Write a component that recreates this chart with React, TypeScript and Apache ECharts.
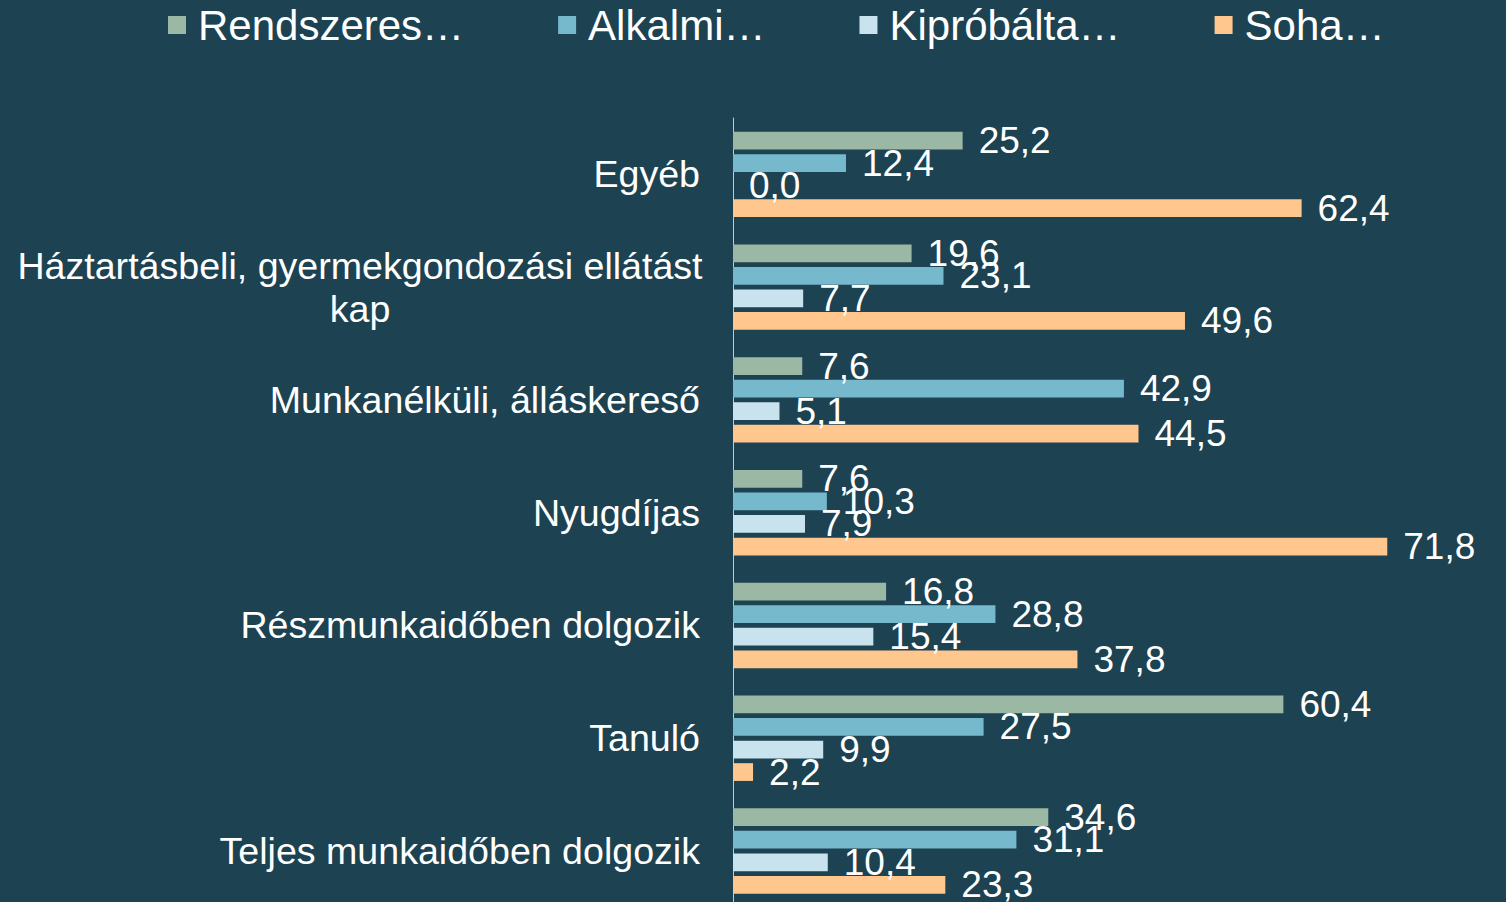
import React, { useEffect, useRef } from "react";
import * as echarts from "echarts";

const categories = [
  "Egyéb",
  "Háztartásbeli, gyermekgondozási ellátást\nkap",
  "Munkanélküli, álláskereső",
  "Nyugdíjas",
  "Részmunkaidőben dolgozik",
  "Tanuló",
  "Teljes munkaidőben dolgozik",
];
const seriesNames = ["Rendszeres…", "Alkalmi…", "Kipróbálta…", "Soha…"];
const rendszeres = [25.2, 19.6, 7.6, 7.6, 16.8, 60.4, 34.6];
const alkalmi = [12.4, 23.1, 42.9, 10.3, 28.8, 27.5, 31.1];
const kiprobalta = [0.0, 7.7, 5.1, 7.9, 15.4, 9.9, 10.4];
const soha = [62.4, 49.6, 44.5, 71.8, 37.8, 2.2, 23.3];
const colors = ["#9ab8a3", "#76b8cc", "#c9e3ee", "#ffc68d"];

const FONT = "'Liberation Sans', Arial, sans-serif";

export default function App() {
  const ref = useRef<HTMLDivElement>(null);
  useEffect(() => {
    document.body.style.margin = "0";
    document.body.style.overflow = "hidden";
    document.documentElement.style.overflow = "hidden";
    if (!ref.current) return;
    const chart = echarts.init(ref.current, null, { renderer: "svg" });
    const values = [rendszeres, alkalmi, kiprobalta, soha];
    chart.setOption({
      animation: false,
      backgroundColor: "#1d4251",
      textStyle: { fontFamily: FONT },
      legend: {
        left: 168,
        top: 4,
        padding: 0,
        itemWidth: 18,
        itemHeight: 18,
        itemGap: 94,
        icon: "rect",
        data: seriesNames,
        textStyle: {
          color: "#ffffff",
          fontSize: 42,
          fontFamily: FONT,
          padding: [0, 0, 0, 7],
        },
      },
      grid: { left: 733, top: 118, width: 729, height: 789.4 },
      xAxis: {
        type: "value",
        min: 0,
        max: 80,
        show: false,
        splitLine: { show: false },
      },
      yAxis: {
        type: "category",
        inverse: true,
        data: categories,
        axisLine: { show: true, lineStyle: { color: "#c8c8c8", width: 1 } },
        axisTick: { show: false },
        axisLabel: {
          margin: 33,
          color: "#ffffff",
          fontSize: 37.6,
          fontFamily: FONT,
          formatter: (v: string) => {
            if (v.indexOf("\n") >= 0) {
              return v
                .split("\n")
                .map((s) => "{c|" + s + "}")
                .join("\n");
            }
            return v;
          },
          rich: {
            c: {
              width: 680,
              align: "center",
              fontSize: 37.6,
              lineHeight: 43,
              color: "#ffffff",
              fontFamily: FONT,
            },
          },
        },
      },
      series: seriesNames.map((name, i) => ({
        name,
        type: "bar",
        data: values[i],
        barCategoryGap: "24.3%",
        barGap: "27%",
        itemStyle: { color: colors[i] },
        label: {
          show: true,
          position: "right",
          distance: 16,
          color: "#ffffff",
          fontSize: 37,
          fontFamily: FONT,
          formatter: (p: any) => p.value.toFixed(1).replace(".", ","),
        },
      })),
    });
    return () => chart.dispose();
  }, []);
  return <div ref={ref} style={{ width: 1506, height: 912 }} />;
}
